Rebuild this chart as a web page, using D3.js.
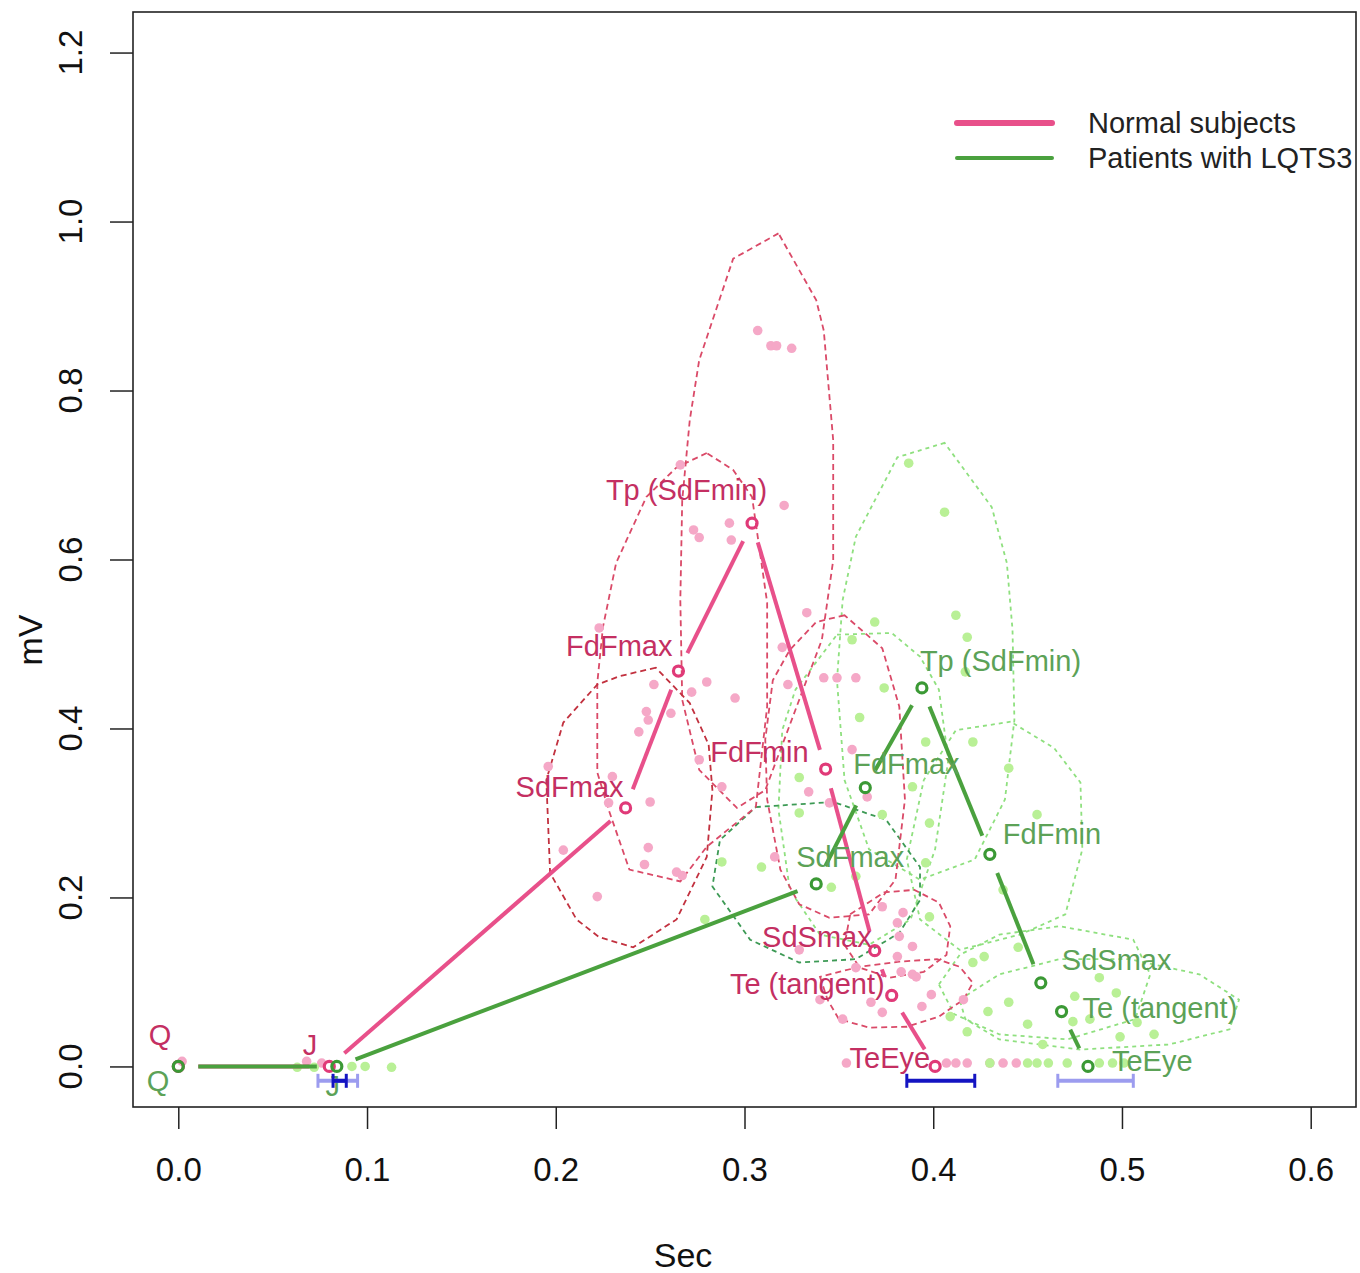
<!DOCTYPE html>
<html>
<head>
<meta charset="utf-8">
<script src="https://cdn.jsdelivr.net/npm/d3@7"></script>
<style>
  body { margin: 0; background: #fff; }
  text { font-family: "Liberation Sans", Arial, Helvetica, sans-serif; }
</style>
</head>
<body>
<svg id="chart" width="1360" height="1273"></svg>
<script>
// ---- ECG landmark data (time in seconds, amplitude in mV) ----
const landmarks = ["Q", "J", "SdFmax", "FdFmax", "Tp (SdFmin)", "FdFmin", "SdSmax", "Te (tangent)", "TeEye"];

// group means
const normalSec = [0.000, 0.080, 0.237, 0.265, 0.304, 0.343, 0.369, 0.378, 0.401];
const normalMV  = [0.000, 0.000, 0.306, 0.468, 0.643, 0.352, 0.137, 0.084, 0.000];
const lqtsSec   = [0.000, 0.084, 0.338, 0.364, 0.394, 0.430, 0.457, 0.468, 0.482];
const lqtsMV    = [0.000, 0.000, 0.216, 0.330, 0.448, 0.251, 0.099, 0.065, 0.000];

// individual subjects [sec, mV]
const normalSubjects = [
  [0.002,0.006],[0.068,0.006],[0.076,0.004],
  [0.307,0.871],[0.314,0.853],[0.317,0.853],[0.325,0.850],
  [0.266,0.712],[0.321,0.664],[0.292,0.643],[0.273,0.635],[0.276,0.626],[0.293,0.623],
  [0.333,0.537],[0.223,0.519],[0.320,0.496],[0.252,0.452],[0.272,0.443],[0.280,0.455],[0.295,0.436],
  [0.323,0.452],[0.342,0.460],[0.349,0.460],[0.359,0.460],
  [0.248,0.420],[0.261,0.418],[0.249,0.410],[0.244,0.396],[0.276,0.363],[0.230,0.343],[0.250,0.313],
  [0.288,0.331],[0.334,0.325],[0.345,0.312],
  [0.204,0.256],[0.249,0.259],[0.196,0.355],[0.228,0.312],[0.247,0.239],[0.264,0.230],[0.267,0.226],[0.222,0.201],
  [0.357,0.375],[0.365,0.319],[0.316,0.248],[0.373,0.189],[0.384,0.182],[0.382,0.154],[0.389,0.142],
  [0.381,0.130],[0.383,0.112],[0.391,0.106],[0.399,0.085],[0.381,0.170],[0.329,0.138],[0.359,0.117],
  [0.394,0.071],[0.367,0.076],[0.373,0.064],[0.352,0.056],[0.340,0.079],[0.416,0.079],[0.389,0.109],
  [0.354,0.004],[0.407,0.004],[0.412,0.004],[0.418,0.004],[0.430,0.004],[0.437,0.004],[0.444,0.004]
];
const lqtsSubjects = [
  [0.063,-0.001],[0.072,-0.001],[0.092,0.000],[0.099,0.000],[0.113,-0.001],
  [0.387,0.714],[0.406,0.656],[0.412,0.534],[0.418,0.508],[0.369,0.526],[0.357,0.505],[0.417,0.467],
  [0.374,0.448],[0.361,0.413],[0.396,0.384],[0.421,0.384],[0.440,0.353],
  [0.329,0.342],[0.389,0.331],[0.398,0.288],[0.329,0.300],[0.373,0.298],[0.455,0.298],[0.288,0.242],
  [0.309,0.236],[0.396,0.241],[0.346,0.212],[0.279,0.174],[0.437,0.209],
  [0.421,0.123],[0.427,0.130],[0.445,0.141],[0.398,0.177],[0.359,0.225],
  [0.488,0.105],[0.497,0.087],[0.475,0.083],[0.440,0.076],[0.429,0.065],[0.474,0.053],[0.483,0.056],
  [0.508,0.052],[0.450,0.050],[0.409,0.059],[0.418,0.041],[0.517,0.038],[0.458,0.026],[0.499,0.035],
  [0.430,0.004],[0.450,0.004],[0.455,0.004],[0.461,0.004],[0.471,0.004],[0.488,0.004],[0.495,0.004],[0.501,0.004]
];

// spread regions around each landmark (normal subjects)
const normalHullSdFmax = [[0.253,0.472],[0.234,0.462],[0.222,0.452],[0.204,0.407],[0.195,0.339],[0.197,0.229],[0.211,0.174],[0.223,0.153],[0.241,0.141],[0.264,0.174],[0.280,0.248],[0.283,0.327],[0.281,0.381],[0.271,0.430]];
const normalHullFdFmax = [[0.280,0.726],[0.264,0.709],[0.248,0.674],[0.232,0.596],[0.225,0.520],[0.222,0.454],[0.222,0.348],[0.228,0.304],[0.239,0.233],[0.266,0.219],[0.280,0.260],[0.306,0.307],[0.312,0.426],[0.312,0.549],[0.304,0.674],[0.294,0.706]];
const normalHullTp     = [[0.318,0.986],[0.294,0.956],[0.276,0.836],[0.271,0.765],[0.267,0.670],[0.266,0.552],[0.267,0.434],[0.276,0.351],[0.296,0.306],[0.311,0.327],[0.329,0.434],[0.341,0.505],[0.347,0.599],[0.347,0.741],[0.342,0.871],[0.338,0.907]];
const normalHullFdFmin = [[0.353,0.534],[0.338,0.526],[0.324,0.493],[0.315,0.457],[0.311,0.387],[0.312,0.316],[0.319,0.233],[0.329,0.192],[0.345,0.176],[0.366,0.180],[0.380,0.221],[0.385,0.316],[0.382,0.426],[0.373,0.495]];
const normalHullSdSmax = [[0.356,0.180],[0.374,0.206],[0.390,0.209],[0.403,0.194],[0.409,0.166],[0.407,0.132],[0.395,0.112],[0.377,0.105],[0.361,0.117],[0.353,0.144]];
const normalHullTe     = [[0.340,0.106],[0.344,0.079],[0.350,0.056],[0.366,0.046],[0.386,0.047],[0.403,0.059],[0.416,0.079],[0.421,0.099],[0.414,0.118],[0.402,0.127],[0.382,0.124],[0.361,0.118]];

// spread regions around each landmark (patients with LQTS3)
const lqtsHullSdFmax = [[0.306,0.307],[0.347,0.313],[0.375,0.292],[0.393,0.236],[0.393,0.197],[0.382,0.158],[0.359,0.127],[0.329,0.123],[0.303,0.150],[0.283,0.213],[0.287,0.268]];
const lqtsHullFdFmax = [[0.349,0.511],[0.378,0.513],[0.393,0.485],[0.403,0.446],[0.408,0.363],[0.401,0.257],[0.388,0.174],[0.366,0.144],[0.340,0.156],[0.324,0.209],[0.318,0.304],[0.320,0.398],[0.327,0.446]];
const lqtsHullTp     = [[0.406,0.738],[0.381,0.721],[0.359,0.627],[0.352,0.552],[0.349,0.457],[0.353,0.339],[0.366,0.257],[0.393,0.221],[0.422,0.245],[0.438,0.316],[0.443,0.410],[0.442,0.517],[0.439,0.596],[0.431,0.662]];
const lqtsHullFdFmin = [[0.441,0.408],[0.412,0.398],[0.395,0.339],[0.386,0.245],[0.393,0.174],[0.414,0.138],[0.446,0.156],[0.470,0.180],[0.479,0.257],[0.478,0.336],[0.464,0.377]];
const lqtsHullSdSmax = [[0.403,0.097],[0.414,0.132],[0.435,0.156],[0.467,0.166],[0.506,0.150],[0.515,0.109],[0.507,0.056],[0.471,0.032],[0.435,0.038],[0.411,0.062]];
const lqtsHullTe     = [[0.414,0.079],[0.435,0.109],[0.467,0.127],[0.504,0.127],[0.541,0.109],[0.562,0.079],[0.557,0.044],[0.525,0.026],[0.478,0.020],[0.435,0.032],[0.417,0.056]];

// spread of J and TeEye times (low, high) for each group
const normalBarLo = [0.082, 0.386];
const normalBarHi = [0.089, 0.422];
const lqtsBarLo   = [0.074, 0.466];
const lqtsBarHi   = [0.095, 0.506];
const barLevelMV  = -0.017;

const xTicks = [0.0, 0.1, 0.2, 0.3, 0.4, 0.5, 0.6];
const yTicks = [0.0, 0.2, 0.4, 0.6, 0.8, 1.0, 1.2];
const legendLabels = ["Normal subjects", "Patients with LQTS3"];

// ---- styling ----
const C = {
  nLine: "#E8508A", nRing: "#E03A78", nText: "#C42F62", nDot: "#F5A8C7", nHull: "#DA4A68", nHullDark: "#C2313F",
  gLine: "#4AA13E", gRing: "#3B9935", gText: "#5CA257", gDot: "#B9F096", gHull: "#8FE07F", gHullDark: "#3D9A55",
  barDark: "#1414C2", barLight: "#9C9CEF"
};
// label placement relative to each mean point: [dx, dy, anchor]
const normalLabelPos = [[-7,-31,"end"],[-12,-21,"end"],[-2,-21,"end"],[-6,-25,"end"],[15,-33,"end"],[-17,-17,"end"],[-3,-14,"end"],[-7,-11,"end"],[-5,-8,"end"]];
const lqtsLabelPos   = [[-9,15,"end"],[-4,20,"middle"],[-20,-27,"start"],[-12,-24,"start"],[-2,-27,"start"],[13,-20,"start"],[21,-23,"start"],[21,-4,"start"],[24,-5,"start"]];

// ---- scales ----
const svg = d3.select("#chart");
const L = 133, R = 1356, T = 12, B = 1107;
const x = d3.scaleLinear().domain([-0.024, 0.624]).range([L, R]);
const y = d3.scaleLinear().domain([-0.048, 1.248]).range([B, T]);

svg.append("rect").attr("width", 1360).attr("height", 1273).attr("fill", "#fff");

const plot = svg.append("g");
const lineGen = d3.line().x(d => x(d[0])).y(d => y(d[1])).curve(d3.curveLinearClosed);

function drawHull(pts, color, dash) {
  plot.append("path").attr("d", lineGen(pts)).attr("fill", "none")
    .attr("stroke", color).attr("stroke-width", 1.8).attr("stroke-dasharray", dash);
}
// hulls
[lqtsHullFdFmax, lqtsHullTp, lqtsHullFdFmin, lqtsHullSdSmax, lqtsHullTe].forEach(h => drawHull(h, C.gHull, "4,4"));
drawHull(lqtsHullSdFmax, C.gHullDark, "5,4");
[normalHullFdFmax, normalHullTp, normalHullFdFmin, normalHullSdSmax, normalHullTe].forEach(h => drawHull(h, C.nHull, "6,4"));
drawHull(normalHullSdFmax, C.nHullDark, "6,4");

// individual subjects
plot.append("g").selectAll("circle").data(normalSubjects).join("circle")
  .attr("cx", d => x(d[0])).attr("cy", d => y(d[1])).attr("r", 4.8).attr("fill", C.nDot);
plot.append("g").selectAll("circle").data(lqtsSubjects).join("circle")
  .attr("cx", d => x(d[0])).attr("cy", d => y(d[1])).attr("r", 4.8).attr("fill", C.gDot);

// mean trajectories with gaps around the points
function drawTrajectory(secs, mvs, color) {
  const gap = 20;
  const g = plot.append("g");
  for (let i = 0; i < secs.length - 1; i++) {
    const x1 = x(secs[i]), y1 = y(mvs[i]), x2 = x(secs[i + 1]), y2 = y(mvs[i + 1]);
    const d = Math.hypot(x2 - x1, y2 - y1);
    if (d <= 2 * gap) continue;
    const ux = (x2 - x1) / d, uy = (y2 - y1) / d;
    g.append("line")
      .attr("x1", x1 + ux * gap).attr("y1", y1 + uy * gap)
      .attr("x2", x2 - ux * gap).attr("y2", y2 - uy * gap)
      .attr("stroke", color).attr("stroke-width", 4);
  }
}
drawTrajectory(normalSec, normalMV, C.nLine);
drawTrajectory(lqtsSec, lqtsMV, C.gLine);

function drawMeans(secs, mvs, color) {
  plot.append("g").selectAll("circle").data(secs).join("circle")
    .attr("cx", (d) => x(d)).attr("cy", (d, i) => y(mvs[i])).attr("r", 5)
    .attr("fill", "none").attr("stroke", color).attr("stroke-width", 3.2);
}
drawMeans(normalSec, normalMV, C.nRing);
drawMeans(lqtsSec, lqtsMV, C.gRing);

function drawLabels(secs, mvs, pos, color) {
  plot.append("g").selectAll("text").data(landmarks).join("text")
    .attr("x", (d, i) => x(secs[i]) + pos[i][0])
    .attr("y", (d, i) => y(mvs[i]) + pos[i][1])
    .attr("text-anchor", (d, i) => pos[i][2])
    .attr("dominant-baseline", "central")
    .attr("font-size", 29).attr("fill", color).text(d => d);
}
drawLabels(normalSec, normalMV, normalLabelPos, C.nText);
drawLabels(lqtsSec, lqtsMV, lqtsLabelPos, C.gText);

// spread bars for J and TeEye
function drawBars(lo, hi, color) {
  const g = plot.append("g").attr("stroke", color).attr("stroke-width", 4);
  lo.forEach((v, i) => {
    const yy = y(barLevelMV);
    g.append("line").attr("x1", x(v)).attr("x2", x(hi[i])).attr("y1", yy).attr("y2", yy);
    g.append("line").attr("x1", x(v)).attr("x2", x(v)).attr("y1", yy - 7).attr("y2", yy + 7).attr("stroke-width", 3);
    g.append("line").attr("x1", x(hi[i])).attr("x2", x(hi[i])).attr("y1", yy - 7).attr("y2", yy + 7).attr("stroke-width", 3);
  });
}
drawBars(lqtsBarLo, lqtsBarHi, C.barLight);
drawBars(normalBarLo, normalBarHi, C.barDark);

// ---- axes ----
const xAxis = svg.append("g").attr("transform", `translate(0,${B})`)
  .call(d3.axisBottom(x).tickValues(xTicks).tickFormat(d3.format(".1f")).tickSize(22).tickPadding(29));
xAxis.select(".domain").remove();
xAxis.selectAll("line").attr("stroke", "#222").attr("stroke-width", 1.5);
xAxis.selectAll("text").attr("font-size", 33).attr("fill", "#111")
  .attr("font-family", '"Liberation Sans", Arial, sans-serif');

const yAxis = svg.append("g").attr("transform", `translate(${L},0)`)
  .call(d3.axisLeft(y).tickValues(yTicks).tickFormat("").tickSize(23));
yAxis.select(".domain").remove();
yAxis.selectAll("line").attr("stroke", "#222").attr("stroke-width", 1.5);
svg.append("g").selectAll("text").data(yTicks).join("text")
  .attr("transform", d => `translate(70,${y(d)}) rotate(-90)`)
  .attr("text-anchor", "middle").attr("dominant-baseline", "central")
  .attr("font-size", 33).attr("fill", "#111").text(d3.format(".1f"));

// plot frame
svg.append("rect").attr("x", L).attr("y", T).attr("width", R - L).attr("height", B - T)
  .attr("fill", "none").attr("stroke", "#222").attr("stroke-width", 1.6);

// axis titles
svg.append("text").attr("x", 683).attr("y", 1255).attr("text-anchor", "middle")
  .attr("dominant-baseline", "central").attr("font-size", 34).attr("fill", "#111").text("Sec");
svg.append("text").attr("transform", "translate(30,640) rotate(-90)").attr("text-anchor", "middle")
  .attr("dominant-baseline", "central").attr("font-size", 34).attr("fill", "#111").text("mV");

// ---- legend ----
const legend = svg.append("g");
[[C.nLine, 6], [C.gLine, 4]].forEach((s, i) => {
  const ly = 123 + i * 35;
  legend.append("line").attr("x1", 957).attr("x2", 1052).attr("y1", ly).attr("y2", ly)
    .attr("stroke", s[0]).attr("stroke-width", s[1]).attr("stroke-linecap", "round");
  legend.append("text").attr("x", 1088).attr("y", ly).attr("dominant-baseline", "central")
    .attr("font-size", 29).attr("fill", "#222").text(legendLabels[i]);
});
</script>
</body>
</html>
